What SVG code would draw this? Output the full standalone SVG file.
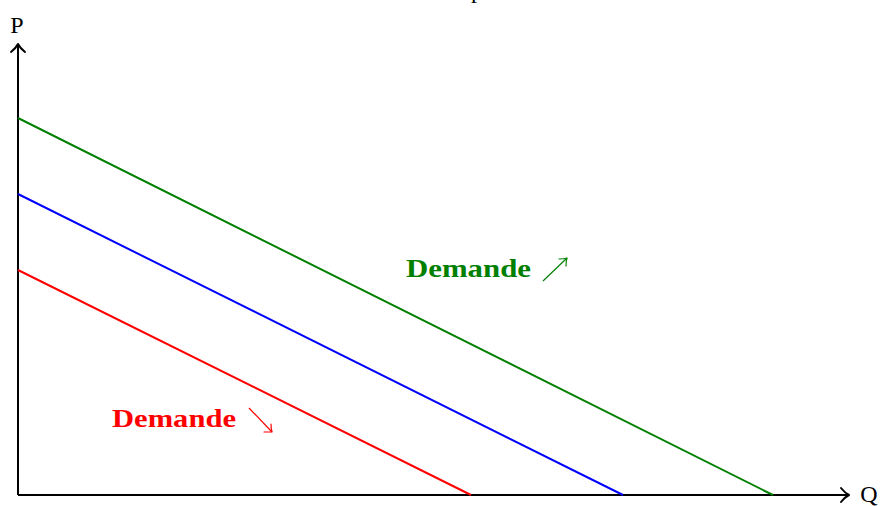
<svg xmlns="http://www.w3.org/2000/svg" width="881" height="506" viewBox="0 0 881 506">
<style>
.lbl{font-family:"Liberation Serif","DejaVu Serif",serif;font-size:24px}
.bold{font-family:"Liberation Serif","DejaVu Serif",serif;font-size:26px;font-weight:bold}
.axis{stroke:#000;stroke-width:2;fill:none}
.head{stroke-linecap:round;stroke-linejoin:round;fill:none}
</style>
<rect width="881" height="506" fill="#fff"/>
<text class="lbl" x="477" y="-2" text-anchor="middle">p</text>
<g id="axes">
<path class="axis" d="M18,495 V45"/>
<path class="axis head" d="M11,52 Q16,48 18,44 Q20,48 25,52"/>
<path class="axis" d="M18,495 H848"/>
<path class="axis head" d="M841,488 Q845,493 849,495 Q845,497 841,502"/>
<text class="lbl" x="17" y="33" text-anchor="middle">P</text>
<text class="lbl" x="869" y="502" text-anchor="middle">Q</text>
</g>
<g id="connectors">
<line id="green" x1="18" y1="118" x2="773" y2="495" stroke="#008000" stroke-width="2"/>
<line id="blue" x1="18" y1="194" x2="623" y2="495" stroke="#0000ff" stroke-width="2"/>
<line id="red" x1="18" y1="270" x2="471" y2="495" stroke="#ff0000" stroke-width="2"/>
</g>
<g id="label-up">
<text class="bold" x="406" y="277" fill="#008000" textLength="125" lengthAdjust="spacingAndGlyphs">Demande</text>
<line x1="543" y1="281" x2="567" y2="258" stroke="#008000" stroke-width="1.2"/>
<path class="head" d="M559,259 Q564,259 567,258 Q566,261 566,266" stroke="#008000" stroke-width="1.2"/>
</g>
<g id="label-down">
<text class="bold" x="112" y="427" fill="#ff0000" textLength="124" lengthAdjust="spacingAndGlyphs">Demande</text>
<line x1="249" y1="408" x2="272" y2="432" stroke="#ff0000" stroke-width="1.2"/>
<path class="head" d="M271,424 Q271,429 272,432 Q269,432 264,432" stroke="#ff0000" stroke-width="1.2"/>
</g>
</svg>
